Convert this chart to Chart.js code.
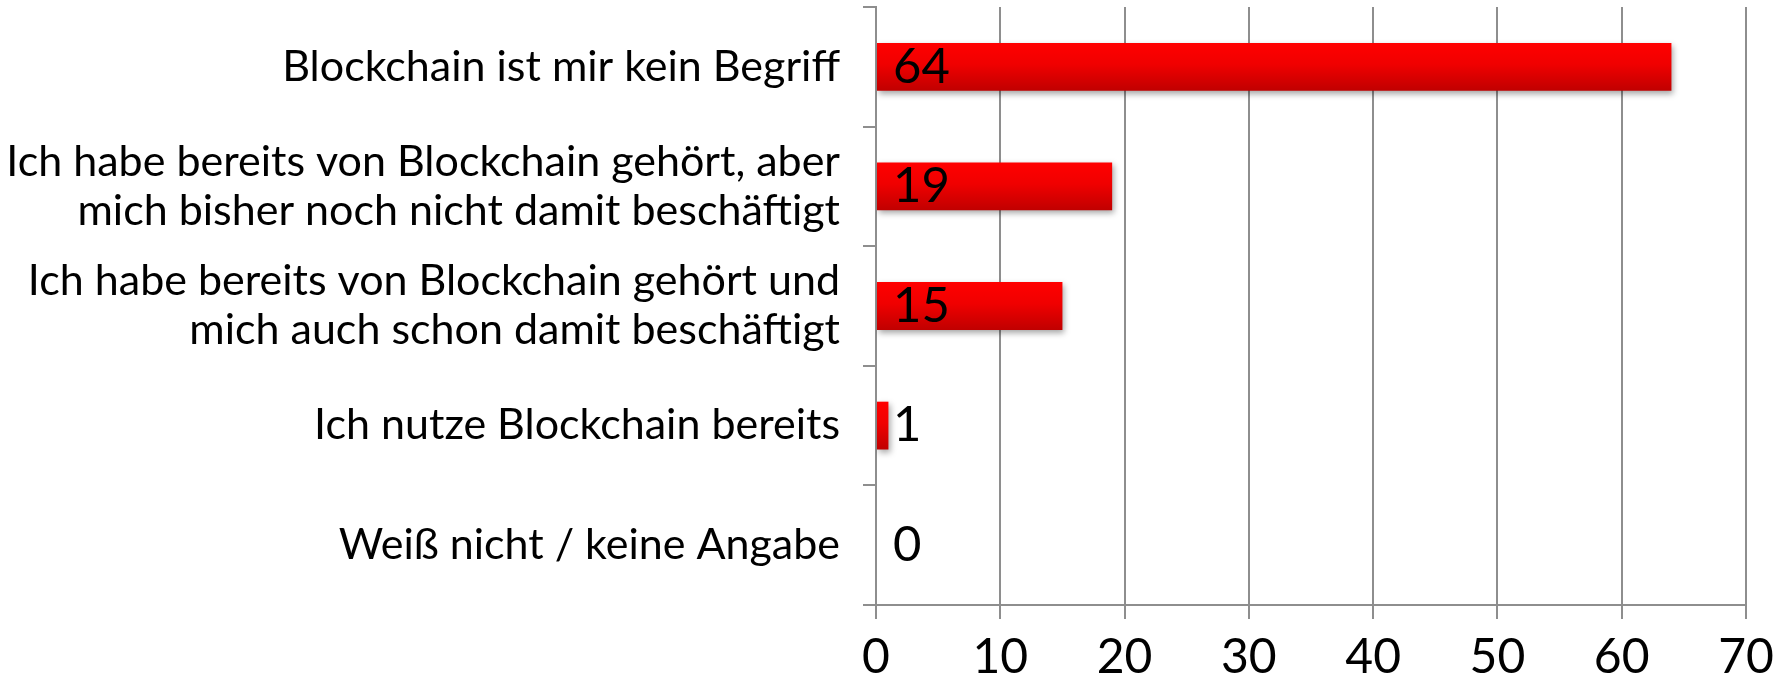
<!DOCTYPE html>
<html>
<head>
<meta charset="utf-8">
<script src="https://cdn.jsdelivr.net/npm/chart.js@4"></script>
<style>
  body { margin: 0; background: #fff; }
</style>
</head>
<body>
<canvas id="bar-chart" width="1791" height="685"></canvas>
<script>
const categories = [
    ['Blockchain ist mir kein Begriff'],
    ['Ich habe bereits von Blockchain gehört, aber', 'mich bisher noch nicht damit beschäftigt'],
    ['Ich habe bereits von Blockchain gehört und', 'mich auch schon damit beschäftigt'],
    ['Ich nutze Blockchain bereits'],
    ['Weiß nicht / keine Angabe']
];
const values = [64, 19, 15, 1, 0];
const xTicks = [0, 10, 20, 30, 40, 50, 60, 70];

const FONT = 'Lato';
const grey = '#8e8e8e';

// red gradient per bar, computed from the category scale
function barGradient(context) {
    const chart = context.chart;
    const y = chart.scales.y;
    if (!chart.chartArea || !y) return '#e00000';
    const center = y.getPixelForValue(context.dataIndex);
    const h = (y.height / categories.length) * 0.4;
    const g = chart.ctx.createLinearGradient(0, center - h / 2, 0, center + h / 2);
    g.addColorStop(0, '#ff0000');
    g.addColorStop(0.45, '#f00000');
    g.addColorStop(1, '#c00000');
    return g;
}

const barShadow = {
    id: 'barShadow',
    beforeDatasetsDraw(chart) {
        const ctx = chart.ctx;
        ctx.save();
        ctx.shadowColor = 'rgba(0,0,0,0.35)';
        ctx.shadowBlur = 6;
        ctx.shadowOffsetX = 2;
        ctx.shadowOffsetY = 3;
    },
    afterDatasetsDraw(chart) {
        chart.ctx.restore();
    }
};

const valueLabels = {
    id: 'valueLabels',
    afterDatasetsDraw(chart) {
        const ctx = chart.ctx;
        const x0 = chart.scales.x.getPixelForValue(0);
        ctx.save();
        ctx.font = '49px ' + FONT;
        ctx.fillStyle = '#000';
        ctx.textAlign = 'left';
        ctx.textBaseline = 'middle';
        chart.getDatasetMeta(0).data.forEach((el, i) => {
            ctx.fillText(String(values[i]), x0 + 17, el.y);
        });
        ctx.restore();
    }
};

new Chart(document.getElementById('bar-chart'), {
    type: 'bar',
    data: {
        labels: categories,
        datasets: [{
            data: values,
            backgroundColor: barGradient,
            barPercentage: 0.4,
            categoryPercentage: 1.0,
            borderWidth: 0
        }]
    },
    options: {
        indexAxis: 'y',
        responsive: false,
        animation: false,
        layout: {
            padding: { top: 7, right: 45, bottom: 0, left: 0 }
        },
        plugins: {
            legend: { display: false },
            tooltip: { enabled: false }
        },
        scales: {
            x: {
                min: 0,
                max: 70,
                afterBuildTicks(scale) {
                    scale.ticks = xTicks.map(v => ({ value: v }));
                },
                afterFit(scale) {
                    scale.height = 80;
                },
                grid: {
                    color: grey,
                    lineWidth: 2,
                    drawTicks: true,
                    tickLength: 14
                },
                border: { display: true, color: grey, width: 2 },
                ticks: {
                    color: '#000',
                    padding: 10,
                    font: { family: FONT, size: 48 }
                }
            },
            y: {
                afterFit(scale) {
                    scale.width = 876;
                    scale.paddingTop = 0;
                    scale.paddingBottom = 0;
                },
                grid: {
                    offset: true,
                    drawOnChartArea: false,
                    drawTicks: true,
                    tickLength: 13,
                    color: grey,
                    lineWidth: 2
                },
                border: { display: true, color: grey, width: 2 },
                ticks: {
                    color: '#000',
                    padding: 23,
                    font: { family: FONT, size: 43, lineHeight: 1.14 }
                }
            }
        }
    },
    plugins: [barShadow, valueLabels]
});
</script>
</body>
</html>
